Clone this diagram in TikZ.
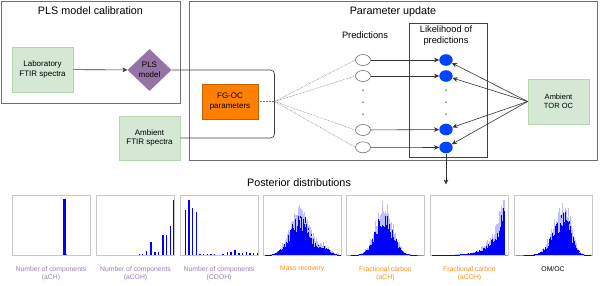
\documentclass[tikz,border=0pt]{standalone}
\usepackage{fontspec}
\setmainfont{Liberation Sans}
\usetikzlibrary{arrows.meta,shapes.geometric}
\definecolor{gfill}{HTML}{D5E8D4}
\definecolor{gline}{HTML}{B5D6AE}
\definecolor{purp}{HTML}{9673A6}
\definecolor{orng}{HTML}{FF8000}
\definecolor{ornline}{HTML}{C06000}
\definecolor{bluec}{HTML}{0044FF}
\definecolor{labpurp}{HTML}{9A7DB0}
\definecolor{laborng}{HTML}{FF8C1A}
\definecolor{framec}{HTML}{707070}
\definecolor{pframe}{HTML}{C8C8C8}
\newcommand{\conthist}[2]{%
  \foreach \ii in {0,...,190}{%
    \pgfmathsetmacro{\myt}{\ii/190}%
    \pgfmathsetmacro{\myf}{#2}%
    \pgfmathsetmacro{\hl}{min(\myf*(0.9+0.6*rnd*rnd),0.97)*57}%
    \pgfmathsetmacro{\hs}{min(\myf*(0.6+0.45*rnd),0.97)*57}%
    \fill[blue!25] ({#1+1.5+\myt*75},255) rectangle ++(0.45,-\hl);
    \fill[blue] ({#1+1.5+\myt*75},255) rectangle ++(0.45,-\hs);
  }}
\newcommand{\dbar}[2]{\fill[blue] ({#1-0.7},255) rectangle ++(1.4,{-#2*58});}
\begin{document}
\begin{tikzpicture}[x=1pt,y=-1pt,
  greenbox/.style={draw=gline, fill=gfill, line width=0.8pt, align=center,
    font=\fontsize{8}{9.6}\selectfont, inner sep=0pt},
  container/.style={draw=framec, line width=0.8pt},
  title/.style={font=\fontsize{10.8}{13}\selectfont},
  predc/.style={ellipse, draw=framec, fill=white, line width=0.6pt,
    minimum width=15, minimum height=11, inner sep=0pt},
  likc/.style={ellipse, fill=bluec, minimum width=13.4, minimum height=11.6, inner sep=0pt},
  arr/.style={-{Stealth[length=5pt,width=4.6pt,inset=1.5pt]}, draw=black!80, line width=0.6pt},
  dotl/.style={dash pattern=on 0.6pt off 0.9pt, draw=black!55, line width=0.5pt},
  panel/.style={draw=pframe, line width=0.7pt},
  hlabel/.style={anchor=north, align=center, font=\fontsize{6.8}{8.6}\selectfont, inner sep=0pt}]
\useasboundingbox (0,0) rectangle (600,285);
\pgfmathsetseed{11}
% containers
\draw[container] (1.7,1.7) rectangle (180.7,103.3);
\draw[container] (189.5,1.7) rectangle (597.5,160.5);
\draw[line width=0.7pt, draw=black!75] (409,23) rectangle (487,157);
\node[title] (t1) at (90.5,11) {PLS model calibration};
\node[title] (t2) at (393,11.5) {Parameter update};
\node[font=\fontsize{9.3}{11}\selectfont] (tpred) at (365,35) {Predictions};
\node[font=\fontsize{9.3}{11}\selectfont, align=center] (tlik) at (446,36) {Likelihood of\\predictions};
% left nodes
\node[greenbox, minimum width=61, minimum height=45] (lab) at (42.5,69.5) {Laboratory\\FTIR spectra};
\node[diamond, fill=purp, minimum width=44, minimum height=42, inner sep=0pt, aspect=1.05,
  align=center, font=\fontsize{8}{9.6}\selectfont] (pls) at (149.5,70) {PLS\\model};
\node[greenbox, minimum width=61, minimum height=44] (aftir) at (149.5,138) {Ambient\\FTIR spectra};
\node[draw=ornline, fill=orng, line width=0.8pt, minimum width=56, minimum height=35, inner sep=0pt,
  align=center, font=\fontsize{8}{9.6}\selectfont] (fgoc) at (230,101.5) {FG-OC\\parameters};
\node[greenbox, minimum width=61, minimum height=45, font=\fontsize{7.5}{9}\selectfont] (tor) at (558.5,101.5) {Ambient\\TOR OC};
\coordinate (fan) at (274.5,101.5);
% circles
\node[predc] (p1) at (363,60) {};
\node[predc] (p2) at (363,76) {};
\node[predc] (p3) at (363,130) {};
\node[predc] (p4) at (363,147.3) {};
\node[likc] (b1) at (446,60) {};
\node[likc] (b2) at (446,76) {};
\node[likc] (b3) at (446,129.5) {};
\node[likc] (b4) at (446,147.5) {};
\foreach \yy in {90,102,114}{
  \fill[black!85] (363,\yy) circle (0.75);
  \fill[black!85] (446,\yy) circle (0.75);
}
% connectors
\draw[arr] (lab) -- (pls);
\draw[draw=black!75, line width=0.7pt, rounded corners=4pt] (pls.east) -| (fan) |- (aftir.east);
\draw[dotl] (fgoc.east) -- (fan);
\foreach \p in {p1,p2,p3,p4}{\draw[dotl] (fan) -- (\p.west);}
\draw[arr] (p1) -- (b1);
\draw[arr] (p2) -- (b2);
\draw[arr] (p3) -- (b3);
\draw[arr] (p4) -- (b4);
\foreach \b in {b1,b2,b3,b4}{\draw[arr] (tor.west) -- (\b);}
\coordinate (post) at (446,184.5);
\draw[arr] (b4.south) -- (post);
\node[title] (tpost) at (299,183) {Posterior distributions};
% panels
\foreach \xx in {12,96.5,180,263.3,346.5,430.5,514}{
  \draw[panel] (\xx,195.5) rectangle ++(78,59.5);
}
% panel 1
\fill[blue] (63.3,255) rectangle (65.7,199);
\fill[blue!70] (65.7,255) rectangle (67,254);
% panel 2
\dbar{139.3}{0.012}\dbar{142.3}{0.012}\dbar{146.7}{0.07}\dbar{151}{0.23}
\dbar{155}{0.045}\dbar{158.7}{0.045}\dbar{163}{0.34}\dbar{166.7}{0.35}
\dbar{170.7}{0.5}\dbar{173.7}{0.95}
% panel 3
\dbar{185.3}{0.78}\dbar{189}{0.95}\dbar{192.7}{0.81}\dbar{196.3}{0.74}
\dbar{200}{0.02}\dbar{203.7}{0.02}\dbar{207.3}{0.02}\dbar{211}{0.02}\dbar{214.7}{0.02}
\dbar{223}{0.02}\dbar{227.3}{0.06}\dbar{231}{0.06}\dbar{235}{0.085}
\dbar{239}{0.04}\dbar{242.7}{0.04}\dbar{246.3}{0.045}\dbar{250}{0.04}\dbar{253.7}{0.04}\dbar{257.3}{0.04}
% continuous panels
\conthist{263.3}{(\myt<0.48) ? 0.72*exp(-((\myt-0.48)^2)/(2*0.14^2)) : 0.72*exp(-((\myt-0.48)^2)/(2*0.11^2))+0.14*exp(-((\myt-0.78)^2)/(2*0.08^2))}
\conthist{346.5}{0.74*exp(-((\myt-0.48)^2)/(2*0.115^2))}
\conthist{430.5}{(\myt<0.965) ? 0.82*exp((\myt-0.95)/0.14) : 0}
\conthist{514}{(\myt<0.65) ? 0.74*exp(-((\myt-0.65)^2)/(2*0.14^2)) : 0.74*exp(-((\myt-0.65)^2)/(2*0.09^2))}
% labels
\node[hlabel, text=labpurp] (l1) at (51,266) {Number of components\\(aCH)};
\node[hlabel, text=labpurp] (l2) at (135.5,266) {Number of components\\(aCOH)};
\node[hlabel, text=labpurp] (l3) at (219,266) {Number of components\\(COOH)};
\node[hlabel, text=laborng] (l4) at (302.3,266) {Mass recovery};
\node[hlabel, text=laborng] (l5) at (385.5,266) {Fractional carbon\\(aCH)};
\node[hlabel, text=laborng] (l6) at (469.5,266) {Fractional carbon\\(aCOH)};
\node[hlabel, text=black] (l7) at (553,266) {OM/OC};
\end{tikzpicture}
\end{document}
